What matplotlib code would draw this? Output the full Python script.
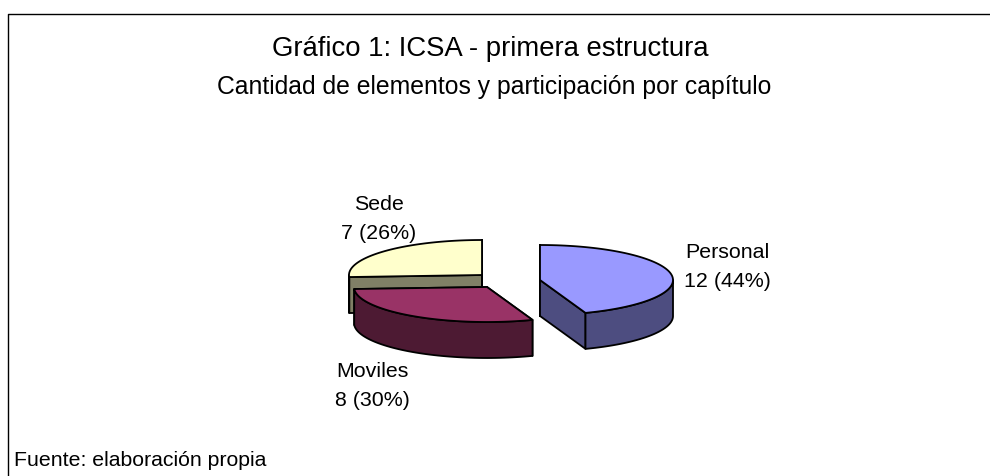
import matplotlib
matplotlib.use('Agg')
import matplotlib.pyplot as plt
import numpy as np

plt.rcParams['font.family'] = ['Liberation Sans', 'DejaVu Sans']

# data
capitulos = ['Personal', 'Moviles', 'Sede']
elementos = [12, 8, 7]

titulo = 'Gráfico 1: ICSA - primera estructura'
subtitulo = 'Cantidad de elementos y participación por capítulo'
fuente = 'Fuente: elaboración propia'

# style, pixels
colores_top = ['#9999ff', '#993366', '#ffffcc']
colores_side = ['#4d4d80', '#4d1a33', '#808066']
centros = [(540, 280), (487, 287), (482, 275)]
pos_labels = [(727, 267), (372, 386), (379, 219)]
rx, ry, depth = 133, 35, 36


def punto(c, ang):
    # angle clockwise from 12 o'clock
    return c[0] + rx * np.sin(ang), c[1] - ry * np.cos(ang)


def draw_slice(ax, c, a1, a2, top, side):
    # cut faces first, outer wall over them, top face last
    for a in (a1, a2):
        x, y = punto(c, a)
        ax.fill([c[0], x, x, c[0]], [c[1], y, y + depth, c[1] + depth],
                facecolor=side, edgecolor='black', lw=1.3, joinstyle='round')
    # only the front half of the rim can be seen
    f1, f2 = max(a1, np.pi / 2), min(a2, 3 * np.pi / 2)
    if f2 > f1:
        t = np.linspace(f1, f2, 60)
        x, y = punto(c, t)
        ax.fill(np.r_[x, x[::-1]], np.r_[y, y[::-1] + depth],
                facecolor=side, edgecolor='black', lw=1.3, joinstyle='round')
    t = np.linspace(a1, a2, 90)
    x, y = punto(c, t)
    ax.fill(np.r_[c[0], x], np.r_[c[1], y],
            facecolor=top, edgecolor='black', lw=1.3, joinstyle='round')


fig = plt.figure(figsize=(9.9, 4.76), dpi=100)
ax = fig.add_axes([0, 0, 1, 1])
ax.set_xlim(0, 990)
ax.set_ylim(476, 0)
ax.axis('off')

# marco, only left and top show
ax.plot([7.5, 7.5, 990], [476, 13.5, 13.5], color='black', lw=1)

total = sum(elementos)
angs = np.r_[0, np.cumsum(elementos)] / total * 2 * np.pi

# back to front
for i in [2, 1, 0]:
    draw_slice(ax, centros[i], angs[i], angs[i + 1], colores_top[i], colores_side[i])

for nom, val, pos in zip(capitulos, elementos, pos_labels):
    ax.text(pos[0], pos[1], f'{nom}\n{val} ({round(100 * val / total)}%)',
            ha='center', va='center', fontsize=15.4, linespacing=1.7)

ax.text(490, 49, titulo, ha='center', va='center', fontsize=19.8)
ax.text(494, 87, subtitulo, ha='center', va='center', fontsize=17.85)
ax.text(14, 461, fuente, ha='left', va='center', fontsize=15.3)

fig.savefig('out.png', dpi=100)
